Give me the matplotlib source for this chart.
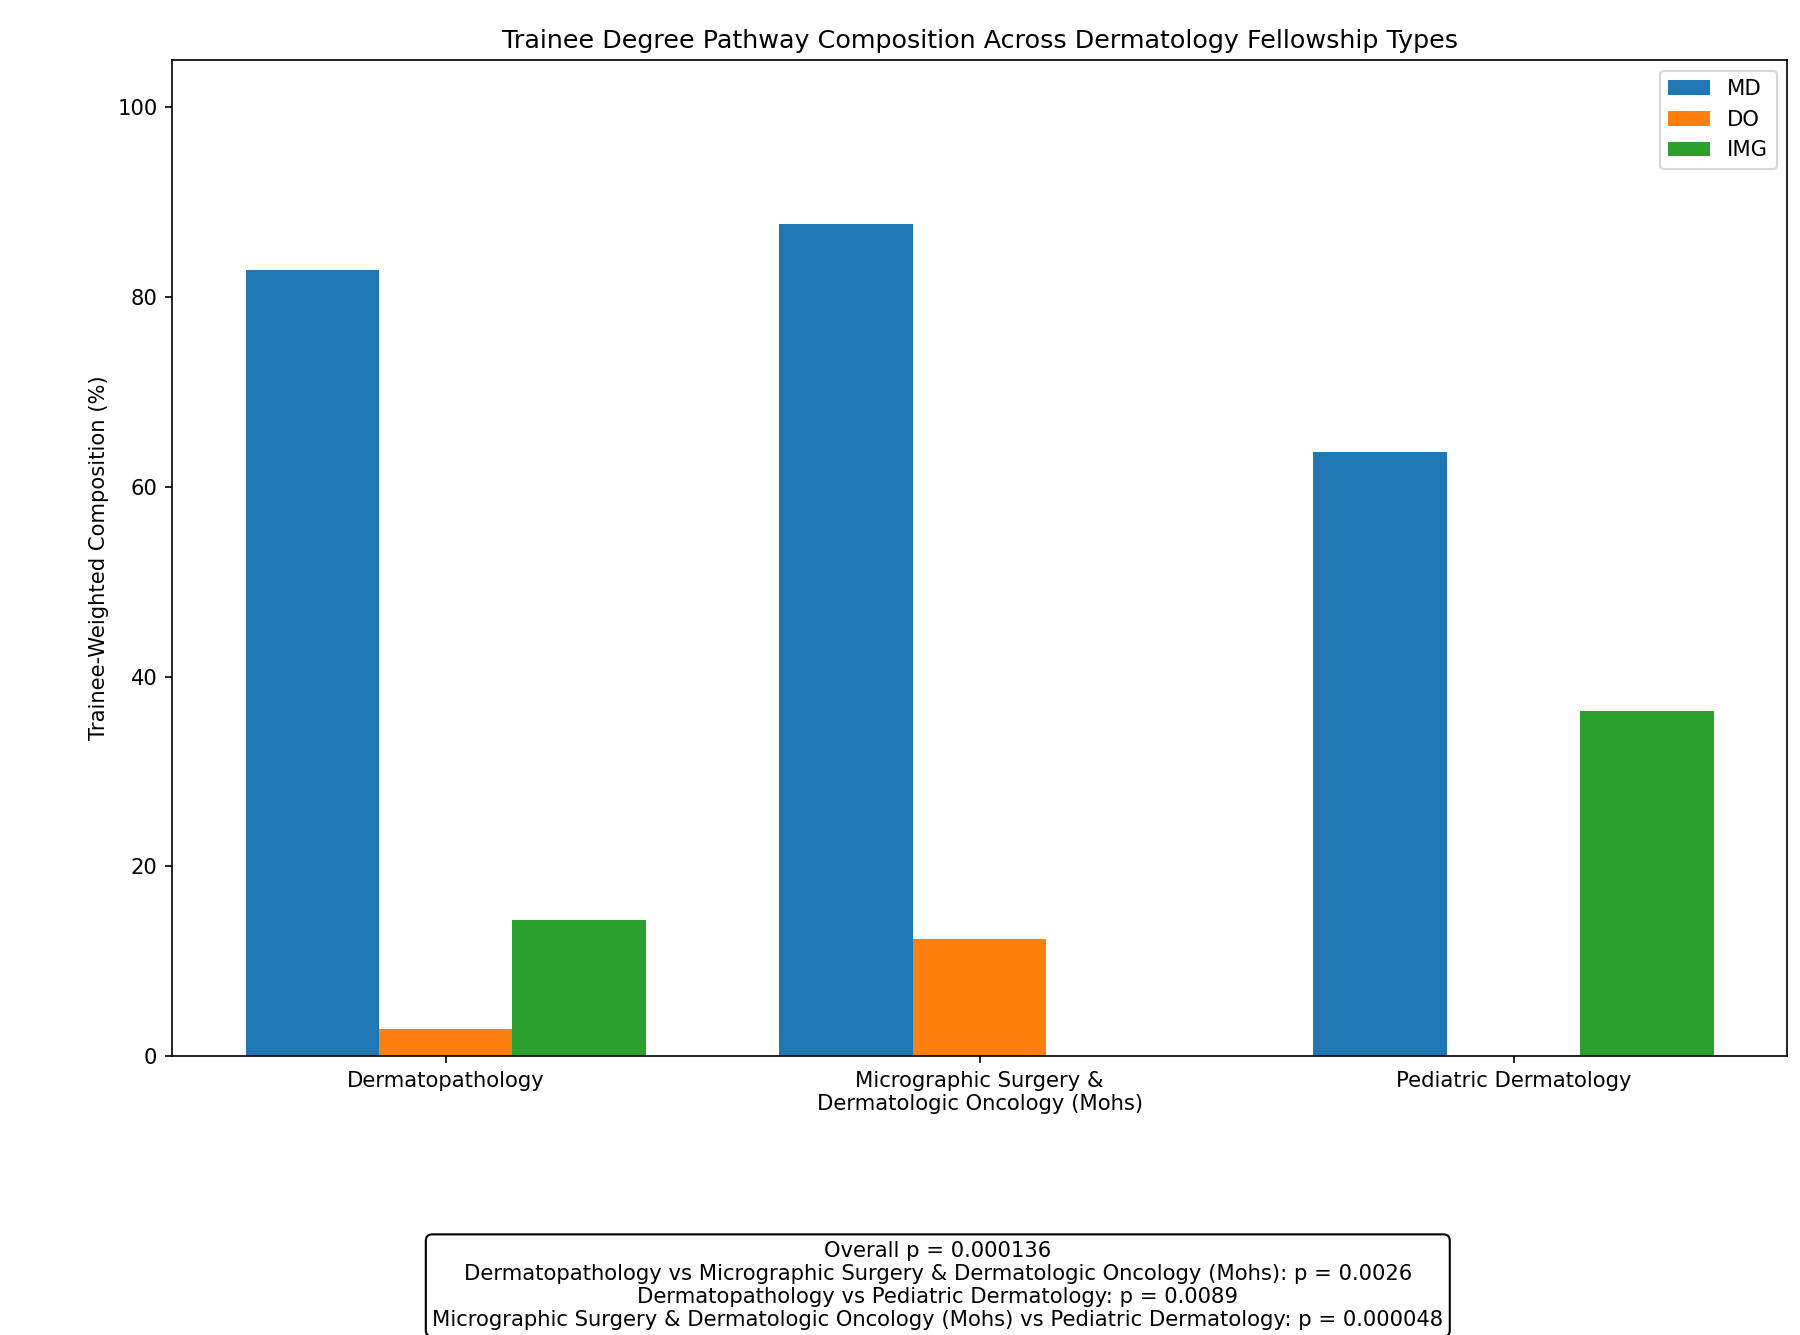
import numpy as np
import matplotlib
matplotlib.use('Agg')
import matplotlib.pyplot as plt

plt.rcParams['font.size'] = 10.17

# trainee-weighted composition (%) per fellowship type
fellowships = ['Dermatopathology',
               'Micrographic Surgery &\nDermatologic Oncology (Mohs)',
               'Pediatric Dermatology']
md = [82.86, 87.69, 63.64]
do = [2.86, 12.31, 0.0]
img = [14.29, 0.0, 36.36]

stats_lines = [
    'Overall p = 0.000136',
    'Dermatopathology vs Micrographic Surgery & Dermatologic Oncology (Mohs): p = 0.0026',
    'Dermatopathology vs Pediatric Dermatology: p = 0.0089',
    'Micrographic Surgery & Dermatologic Oncology (Mohs) vs Pediatric Dermatology: p = 0.000048',
]

x = np.arange(len(fellowships))
w = 0.25

fig, ax = plt.subplots(figsize=(12, 8.9), dpi=150)
ax.bar(x - w, md, w, label='MD')
ax.bar(x, do, w, label='DO')
ax.bar(x + w, img, w, label='IMG')

ax.set_xticks(x)
ax.set_xticklabels(fellowships)
ax.set_ylim(0, 105)
ax.set_ylabel('Trainee-Weighted Composition (%)')
ax.set_title('Trainee Degree Pathway Composition Across Dermatology Fellowship Types')
ax.legend(loc='upper right')

fig.subplots_adjust(left=0.0956, right=0.993, top=0.955, bottom=0.209)
fig.text(0.521, 0.0035, '\n'.join(stats_lines), ha='center', va='bottom',
         bbox=dict(boxstyle='round', facecolor='white', edgecolor='black'))

fig.savefig('out.png', dpi=150)
